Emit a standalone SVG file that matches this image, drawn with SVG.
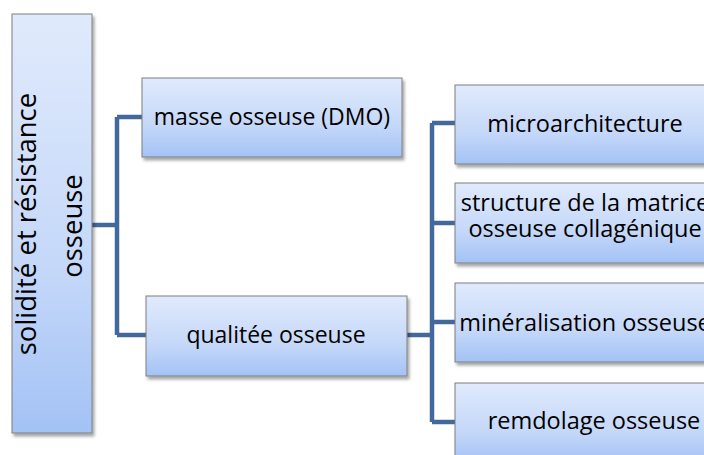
<svg xmlns="http://www.w3.org/2000/svg" width="704" height="455" viewBox="0 0 704 455">
<style>
.box{fill:url(#g);stroke:#7f7f7f;stroke-width:1;filter:url(#sh)}
.t{font-family:"Open Sans","Liberation Sans",sans-serif;font-size:23px;fill:#000;text-anchor:middle}
.r{font-size:23.5px}
.l{font-size:27.5px}
.c{fill:none;stroke:#43699c;stroke-width:4.5;stroke-linejoin:miter}
</style>
<defs>
<linearGradient id="g" x1="0" y1="0" x2="0" y2="1">
<stop offset="0" stop-color="#e0eafc"/>
<stop offset="0.6" stop-color="#c5d8f9"/>
<stop offset="1" stop-color="#a3c2f5"/>
</linearGradient>
<filter id="sh" x="-10%" y="-10%" width="130%" height="130%">
<feDropShadow dx="2" dy="3" stdDeviation="1.5" flood-color="#000" flood-opacity="0.35"/>
</filter>
</defs>
<g id="connectors">
<path class="c" d="M92 225 H117 M117 117 V335 M117 117 H142 M117 335 H146"/>
<path class="c" d="M407 335 H432 M432 123 V422 M432 123 H455 M432 223 H455 M432 322 H455 M432 422 H455"/>
</g>
<g id="root">
<rect class="box" x="12" y="14" width="80" height="419"/>
<text class="t l" transform="translate(36,224) rotate(-90)">solidité et résistance</text>
<text class="t l" transform="translate(82,226) rotate(-90)">osseuse</text>
</g>
<g id="masse">
<rect class="box" x="142" y="78" width="260" height="79"/>
<text class="t" x="272" y="125">masse osseuse (DMO)</text>
</g>
<g id="qualite">
<rect class="box" x="146" y="296" width="261" height="80"/>
<text class="t" x="276" y="343">qualitée osseuse</text>
</g>
<g id="micro">
<rect class="box" x="455" y="85" width="260" height="79"/>
<text class="t r" x="585" y="132">microarchitecture</text>
</g>
<g id="structure">
<rect class="box" x="455" y="183" width="260" height="80"/>
<text class="t r" x="585" y="211">structure de la matrice</text>
<text class="t r" x="585" y="237">osseuse collagénique</text>
</g>
<g id="mineral">
<rect class="box" x="455" y="283" width="260" height="79"/>
<text class="t r" x="585" y="331">minéralisation osseuse</text>
</g>
<g id="remodelage">
<rect class="box" x="455" y="383" width="260" height="80"/>
<text class="t r" x="594" y="429">remdolage osseuse</text>
</g>
</svg>
